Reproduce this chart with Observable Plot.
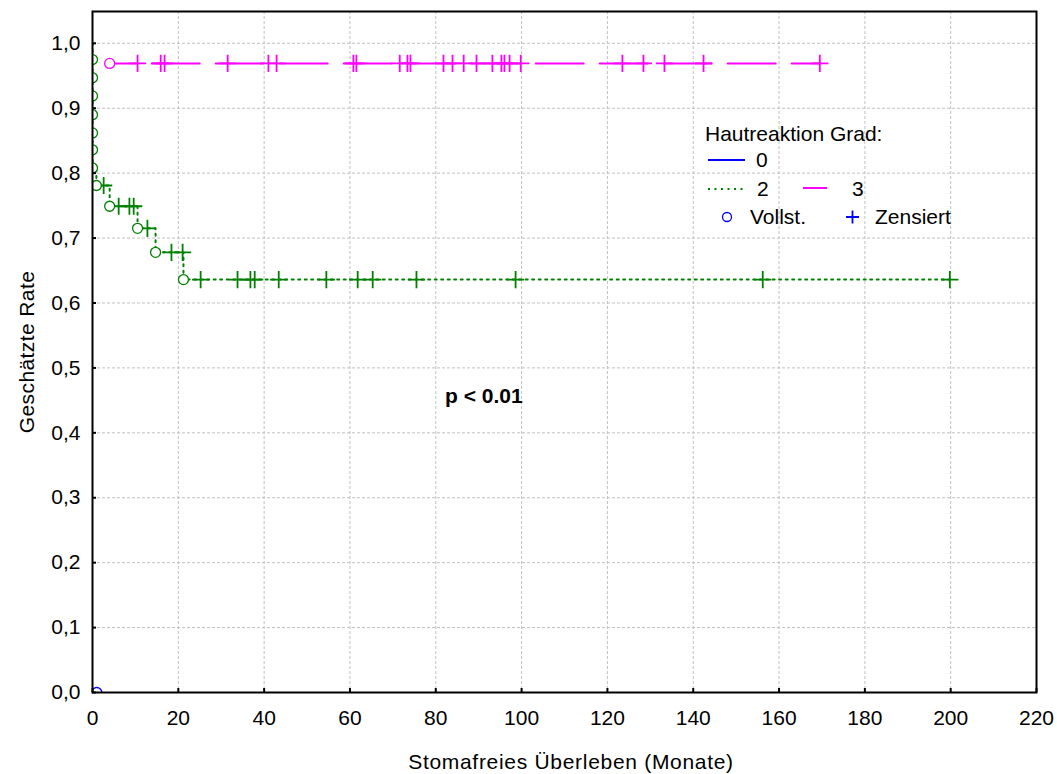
<!DOCTYPE html>
<html><head><meta charset="utf-8">
<script src="https://cdn.jsdelivr.net/npm/d3@7"></script>
<script src="https://cdn.jsdelivr.net/npm/@observablehq/plot@0.6"></script>
<style>body{margin:0;background:#fff} svg{display:block}</style>
</head><body><div id="chart"></div>
<script>
// Tick values
const xTicks = [0, 20, 40, 60, 80, 100, 120, 140, 160, 180, 200, 220];
const yTicks = [0, 0.1, 0.2, 0.3, 0.4, 0.5, 0.6, 0.7, 0.8, 0.9, 1.0];

// Hautreaktion Grad 0 (blau)
const grad0EreignisZeit = [1.0];
const grad0EreignisRate = [0.0];

// Hautreaktion Grad 2 (grün, gepunktet)
const grad2EreignisZeit = [0, 0, 0, 0, 0, 0, 0, 0.9, 4.0, 10.5, 14.7, 21.2];
const grad2EreignisRate = [0.975, 0.947, 0.919, 0.890, 0.862, 0.836, 0.808, 0.781, 0.749, 0.715, 0.678, 0.636];
const grad2ZensiertZeit = [2.6, 6.1, 8.6, 9.6, 12.8, 18.4, 21.0, 25.2, 33.8, 36.8, 37.8, 43.4, 54.5, 61.8, 65.3, 75.5, 98.6, 156.2, 199.8];
const grad2ZensiertRate = [0.781, 0.749, 0.749, 0.749, 0.715, 0.678, 0.678, 0.636, 0.636, 0.636, 0.636, 0.636, 0.636, 0.636, 0.636, 0.636, 0.636, 0.636, 0.636];

// Hautreaktion Grad 3 (magenta)
const grad3EreignisZeit = [4.0];
const grad3EreignisRate = [0.969];
const grad3ZensiertZeit = [10.5, 15.9, 16.8, 31.5, 41.0, 42.9, 60.8, 61.5, 71.6, 73.4, 74.1, 81.8, 83.9, 86.5, 89.5, 93.2, 95.3, 96.0, 97.2, 99.8, 123.5, 128.4, 133.3, 142.4, 169.5];
const grad3ZensiertRate = grad3ZensiertZeit.map(() => 0.969);

const startRate = 1.0;

const zip = (ts, ss) => ts.map((t, i) => ({t, s: ss[i]}));
const ev0 = zip(grad0EreignisZeit, grad0EreignisRate);
const ev2 = zip(grad2EreignisZeit, grad2EreignisRate);
const ce2 = zip(grad2ZensiertZeit, grad2ZensiertRate);
const ev3 = zip(grad3EreignisZeit, grad3EreignisRate);
const ce3 = zip(grad3ZensiertZeit, grad3ZensiertRate);

const line2 = [{t: 0, s: startRate}, ...ev2, ce2[ce2.length - 1]];
const line3 = [...ev3, ce3[ce3.length - 1]];

const GREEN = "#008000", MAG = "#ff00ff", BLUE = "#0000ff";
const FONT = "'Liberation Sans', Arial, sans-serif";

const W = 1057, H = 774;
const mL = 92, mR = 21, mT = 11, mB = 82;
const plotW = W - mL - mR, plotH = H - mT - mB;

const chart = Plot.plot({
  width: W, height: H,
  marginLeft: mL, marginRight: mR, marginTop: mT, marginBottom: mB,
  style: {fontFamily: FONT, fontSize: "21px", color: "black", background: "white", overflow: "visible"},
  x: {domain: [0, 220], nice: false},
  y: {domain: [0, 1.049], nice: false},
  marks: [
    Plot.gridX(xTicks, {stroke: "#c0c0c0", strokeOpacity: 1, strokeWidth: 1, strokeDasharray: "3,2"}),
    Plot.gridY(yTicks, {stroke: "#c0c0c0", strokeOpacity: 1, strokeWidth: 1, strokeDasharray: "3,2"}),
    Plot.line(line2, {x: "t", y: "s", curve: "step-after", stroke: GREEN, strokeWidth: 2, strokeDasharray: "2,4.5", clip: true}),
    Plot.line(line3, {x: "t", y: "s", curve: "step-after", stroke: MAG, strokeWidth: 2, strokeDasharray: "48,16", strokeDashoffset: 22}),
    Plot.dot(ce2, {x: "t", y: "s", symbol: "plus", r: 5.6, stroke: GREEN, strokeWidth: 1.8}),
    Plot.dot(ce3, {x: "t", y: "s", symbol: "plus", r: 5.6, stroke: MAG, strokeWidth: 1.8}),
    Plot.dot(ev2, {x: "t", y: "s", r: 5, stroke: GREEN, fill: "white", strokeWidth: 1.3, clip: true}),
    Plot.dot(ev3, {x: "t", y: "s", r: 5, stroke: MAG, fill: "white", strokeWidth: 1.3, clip: true}),
    Plot.dot(ev0, {x: "t", y: "s", r: 5, stroke: BLUE, fill: "none", strokeWidth: 1.3, clip: true}),
    Plot.gridX(xTicks, {stroke: "black", strokeOpacity: 1, strokeWidth: 2, strokeDasharray: null, insetTop: plotH - 4}),
    Plot.gridY(yTicks, {stroke: "black", strokeOpacity: 1, strokeWidth: 2, strokeDasharray: null, insetRight: plotW - 4}),
    Plot.frame({stroke: "black", strokeWidth: 2}),
    Plot.axisX({ticks: xTicks, tickSize: 0, tickPadding: 18, label: null, tickFormat: d => String(d), fontSize: 21}),
    Plot.axisY({ticks: yTicks, tickSize: 0, tickPadding: 12, label: null, tickFormat: d => d.toFixed(1).replace(".", ","), fontSize: 21})
  ]
});

document.getElementById("chart").appendChild(chart);

// Annotations: titles, p-value, legend
const svg = d3.select(chart);
const g = svg.append("g").attr("font-family", FONT).attr("font-size", 21).attr("fill", "black").attr("text-anchor", "start");

g.append("text").attr("x", 571).attr("y", 769).attr("text-anchor", "middle").attr("letter-spacing", 0.7)
  .text("Stomafreies Überleben (Monate)");
g.append("text").attr("transform", "translate(34,352) rotate(-90)").attr("text-anchor", "middle").attr("letter-spacing", 0.4)
  .text("Geschätzte Rate");
g.append("text").attr("x", 445).attr("y", 403).attr("font-weight", "bold").text("p < 0.01");

// Legend
g.append("text").attr("x", 705).attr("y", 141).text("Hautreaktion Grad:");
g.append("line").attr("x1", 708).attr("x2", 745).attr("y1", 160).attr("y2", 160).attr("stroke", BLUE).attr("stroke-width", 2);
g.append("text").attr("x", 756).attr("y", 167).text("0");
g.append("line").attr("x1", 708).attr("x2", 743).attr("y1", 189).attr("y2", 189).attr("stroke", GREEN).attr("stroke-width", 2).attr("stroke-dasharray", "2,4.5");
g.append("text").attr("x", 757).attr("y", 196).text("2");
g.append("line").attr("x1", 803).attr("x2", 827).attr("y1", 188).attr("y2", 188).attr("stroke", MAG).attr("stroke-width", 2);
g.append("text").attr("x", 852).attr("y", 196).text("3");
g.append("circle").attr("cx", 727).attr("cy", 217).attr("r", 4.5).attr("fill", "none").attr("stroke", BLUE).attr("stroke-width", 1.3);
g.append("text").attr("x", 750).attr("y", 224).text("Vollst.");
g.append("path").attr("d", "M846,217H859M852.5,210.5V223.5").attr("stroke", BLUE).attr("stroke-width", 1.8);
g.append("text").attr("x", 875).attr("y", 224).text("Zensiert");
</script>
</body></html>
